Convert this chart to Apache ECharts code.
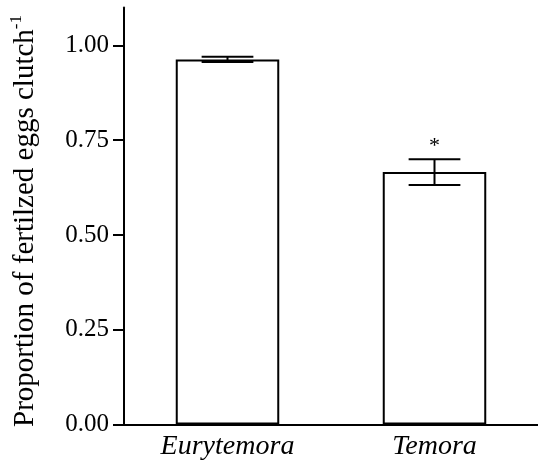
<!DOCTYPE html>
<html>
<head>
<meta charset="utf-8">
<script src="https://cdn.jsdelivr.net/npm/echarts@6/dist/echarts.min.js"></script>
<style>
  html, body { margin: 0; padding: 0; background: #fff; }
  #chart { width: 538px; height: 465px; }
</style>
</head>
<body>
<div id="chart"></div>
<script>
const categories = ['Eurytemora', 'Temora'];
const meanValues = [0.963, 0.666];
const seValues = [0.007, 0.034];
const significance = ['', '*'];
const yTickValues = [0, 0.25, 0.5, 0.75, 1.0];

const FONT = 'Liberation Serif';
const chart = echarts.init(document.getElementById('chart'), null, { renderer: 'canvas' });

const errorData = categories.map((c, i) => [i, meanValues[i] - seValues[i], meanValues[i] + seValues[i]]);

chart.setOption({
  animation: false,
  backgroundColor: '#fff',
  grid: { left: 124, right: 0, top: 7.5, bottom: 40.5 },
  xAxis: {
    type: 'category',
    data: categories,
    axisLine: { lineStyle: { color: '#000', width: 2 } },
    axisTick: { show: false },
    axisLabel: {
      color: '#000', fontFamily: FONT, fontStyle: 'italic', fontSize: 28, margin: 8
    }
  },
  yAxis: {
    type: 'value',
    min: 0,
    max: 1.1,
    name: '{a|Proportion of fertilzed eggs clutch}{b|-1}',
    nameLocation: 'middle',
    nameGap: 82,
    nameTextStyle: {
      color: '#000', fontFamily: FONT, fontSize: 29, padding: [0, 10, 0, 0],
      rich: {
        a: { color: '#000', fontFamily: FONT, fontSize: 29, lineHeight: 34 },
        b: { color: '#000', fontFamily: FONT, fontSize: 17, lineHeight: 17, verticalAlign: 'top' }
      }
    },
    axisLine: { show: true, lineStyle: { color: '#000', width: 2 } },
    axisTick: { show: true, length: 11, lineStyle: { color: '#000', width: 2 }, customValues: yTickValues },
    axisLabel: {
      color: '#000', fontFamily: FONT, fontSize: 25, margin: 15,
      customValues: yTickValues,
      formatter: v => v.toFixed(2)
    },
    splitLine: { show: false }
  },
  series: [
    {
      type: 'bar',
      data: meanValues,
      barWidth: '50%',
      itemStyle: { color: '#fff', borderColor: '#000', borderWidth: 2 },
      z: 2
    },
    {
      type: 'custom',
      data: errorData,
      z: 3,
      renderItem: function (params, api) {
        const idx = api.value(0);
        const lo = api.coord([idx, api.value(1)]);
        const hi = api.coord([idx, api.value(2)]);
        const half = api.size([1, 0])[0] * 0.125;
        const style = { stroke: '#000', lineWidth: 2 };
        const sig = significance[idx];
        const children = [
          { type: 'line', shape: { x1: hi[0], y1: hi[1], x2: lo[0], y2: lo[1] }, style },
          { type: 'line', shape: { x1: hi[0] - half, y1: hi[1], x2: hi[0] + half, y2: hi[1] }, style },
          { type: 'line', shape: { x1: lo[0] - half, y1: lo[1], x2: lo[0] + half, y2: lo[1] }, style }
        ];
        if (sig) {
          children.push({
            type: 'text',
            style: {
              text: sig, x: hi[0], y: hi[1] - 2,
              align: 'center', verticalAlign: 'bottom',
              fontFamily: FONT, fontSize: 22, fill: '#000'
            }
          });
        }
        return { type: 'group', children };
      }
    }
  ]
});
</script>
</body>
</html>
